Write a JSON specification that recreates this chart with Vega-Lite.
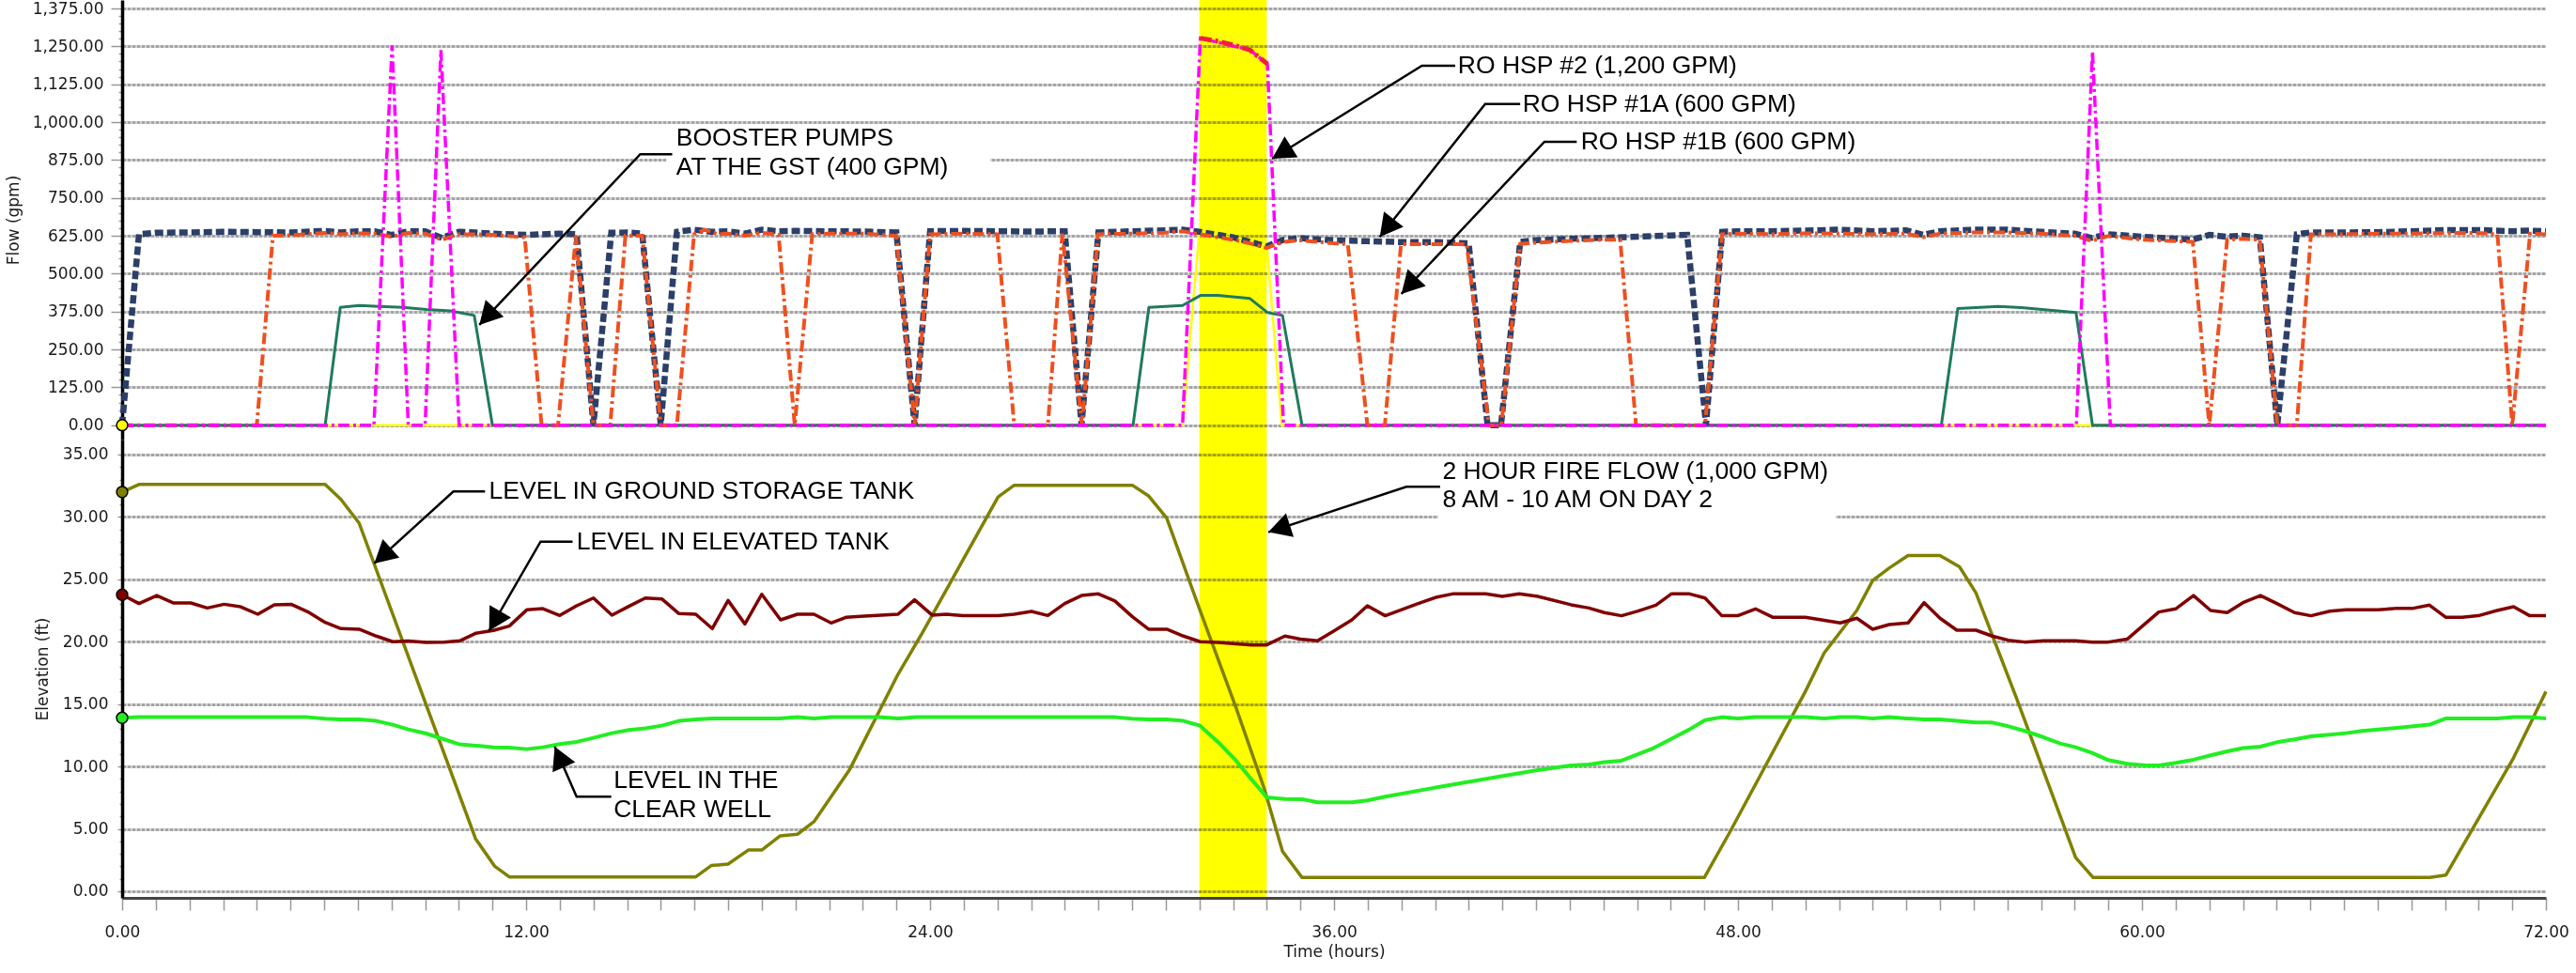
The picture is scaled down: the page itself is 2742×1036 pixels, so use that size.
{
"$schema": "https://vega.github.io/schema/vega-lite/v6.json",
"padding": {"left": 5, "top": 0, "right": 0, "bottom": 0},
"background": "white",
"config": {"view": {"stroke": null}, "axis": {"labelFont": "DejaVu Sans", "titleFont": "DejaVu Sans", "labelFontSize": 17, "titleFontSize": 17, "titleFontWeight": "normal", "labelColor": "#1a1a1a", "titleColor": "#1a1a1a"}},
"datasets": {
"band": [{"h": 32, "h2": 34}],
"a1": [{"h":0,"v":0},{"h":0.5,"v":630},{"h":1,"v":635},{"h":2,"v":636},{"h":3,"v":638},{"h":4,"v":637},{"h":5,"v":636},{"h":6,"v":641},{"h":6.5,"v":636},{"h":7,"v":640},{"h":7.5,"v":640},{"h":8,"v":628},{"h":8.5,"v":640},{"h":9,"v":640},{"h":9.5,"v":618},{"h":10,"v":638},{"h":10.5,"v":636},{"h":11,"v":632},{"h":12,"v":628},{"h":12.5,"v":630},{"h":13,"v":632},{"h":13.5,"v":630},{"h":14,"v":0},{"h":14.53,"v":635},{"h":15,"v":636},{"h":15.45,"v":632},{"h":16,"v":0},{"h":16.48,"v":638},{"h":17,"v":645},{"h":17.5,"v":638},{"h":18,"v":640},{"h":18.5,"v":632},{"h":19,"v":645},{"h":19.5,"v":640},{"h":20,"v":641},{"h":21,"v":640},{"h":22,"v":639},{"h":23,"v":636},{"h":23.54,"v":0},{"h":24,"v":640},{"h":25,"v":641},{"h":26,"v":640},{"h":27,"v":639},{"h":28,"v":640},{"h":28.5,"v":0},{"h":29,"v":636},{"h":30,"v":640},{"h":31,"v":643},{"h":31.5,"v":645},{"h":32,"v":638},{"h":33,"v":620},{"h":33.5,"v":605},{"h":34,"v":590},{"h":34.5,"v":612},{"h":35,"v":617},{"h":36,"v":610},{"h":37,"v":607},{"h":38,"v":604},{"h":39,"v":604},{"h":40,"v":600},{"h":40.56,"v":0},{"h":40.96,"v":0},{"h":41.53,"v":605},{"h":42,"v":610},{"h":43,"v":615},{"h":44,"v":618},{"h":45,"v":622},{"h":46,"v":626},{"h":46.49,"v":628},{"h":47.05,"v":0},{"h":47.53,"v":638},{"h":48,"v":640},{"h":49,"v":640},{"h":50,"v":642},{"h":51,"v":645},{"h":52,"v":640},{"h":53,"v":643},{"h":53.5,"v":628},{"h":54,"v":640},{"h":55,"v":645},{"h":56,"v":645},{"h":57,"v":638},{"h":58,"v":632},{"h":58.5,"v":618},{"h":59,"v":630},{"h":60,"v":622},{"h":61,"v":615},{"h":61.5,"v":612},{"h":62,"v":628},{"h":62.5,"v":622},{"h":63,"v":625},{"h":63.5,"v":620},{"h":64.02,"v":0},{"h":64.6,"v":630},{"h":65,"v":636},{"h":66,"v":636},{"h":67,"v":637},{"h":68,"v":640},{"h":69,"v":644},{"h":70,"v":644},{"h":71,"v":640},{"h":71.5,"v":642},{"h":72,"v":640}],
"b1": [{"h":0,"v":0},{"h":4,"v":0},{"h":4.48,"v":625},{"h":5,"v":627},{"h":6,"v":634},{"h":6.5,"v":630},{"h":7,"v":633},{"h":7.5,"v":632},{"h":8,"v":622},{"h":8.5,"v":634},{"h":9,"v":632},{"h":9.5,"v":612},{"h":10,"v":630},{"h":10.5,"v":630},{"h":11,"v":628},{"h":11.96,"v":620},{"h":12.46,"v":0},{"h":12.95,"v":0},{"h":13.48,"v":625},{"h":14,"v":0},{"h":14.5,"v":0},{"h":14.95,"v":625},{"h":15.45,"v":625},{"h":16,"v":0},{"h":16.48,"v":0},{"h":16.99,"v":630},{"h":17.3,"v":645},{"h":17.7,"v":630},{"h":18,"v":632},{"h":18.5,"v":625},{"h":19,"v":635},{"h":19.5,"v":628},{"h":19.98,"v":0},{"h":20.5,"v":630},{"h":21,"v":632},{"h":22,"v":632},{"h":23,"v":625},{"h":23.54,"v":0},{"h":24,"v":630},{"h":25,"v":632},{"h":26,"v":630},{"h":26.5,"v":0},{"h":27.5,"v":0},{"h":27.93,"v":632},{"h":28.51,"v":0},{"h":28.99,"v":630},{"h":30,"v":632},{"h":31,"v":635},{"h":31.5,"v":640},{"h":32,"v":630},{"h":33,"v":612},{"h":33.5,"v":600},{"h":34,"v":585},{"h":34.5,"v":605},{"h":35,"v":610},{"h":36,"v":600},{"h":36.41,"v":597},{"h":36.99,"v":0},{"h":37.51,"v":0},{"h":37.99,"v":597},{"h":39,"v":597},{"h":39.94,"v":597},{"h":40.6,"v":0},{"h":40.97,"v":0},{"h":41.53,"v":598},{"h":42,"v":602},{"h":43,"v":608},{"h":44,"v":612},{"h":44.5,"v":612},{"h":44.97,"v":0},{"h":47.02,"v":0},{"h":47.53,"v":630},{"h":48,"v":632},{"h":49,"v":630},{"h":50,"v":633},{"h":51,"v":632},{"h":52,"v":630},{"h":53,"v":632},{"h":53.5,"v":620},{"h":54,"v":632},{"h":55,"v":636},{"h":56,"v":636},{"h":57,"v":632},{"h":58,"v":625},{"h":58.5,"v":608},{"h":59,"v":624},{"h":60,"v":612},{"h":61,"v":607},{"h":61.51,"v":605},{"h":62,"v":0},{"h":62.53,"v":612},{"h":63,"v":615},{"h":63.5,"v":612},{"h":64.02,"v":0},{"h":64.6,"v":0},{"h":65.02,"v":630},{"h":66,"v":630},{"h":67,"v":632},{"h":68,"v":632},{"h":69,"v":634},{"h":70,"v":634},{"h":70.56,"v":630},{"h":71,"v":0},{"h":71.53,"v":632},{"h":72,"v":630}],
"p2": [{"h":0,"v":0},{"h":7.48,"v":0},{"h":8.02,"v":1253},{"h":8.5,"v":0},{"h":9,"v":0},{"h":9.47,"v":1238},{"h":10.01,"v":0},{"h":31.5,"v":0},{"h":32.03,"v":1277},{"h":33.5,"v":1238},{"h":34.02,"v":1192},{"h":34.5,"v":0},{"h":58.05,"v":0},{"h":58.53,"v":1233},{"h":59.06,"v":0},{"h":72,"v":0}],
"red": [{"h":32.03,"v":1277},{"h":32.5,"v":1268},{"h":33,"v":1255},{"h":33.5,"v":1238},{"h":34.02,"v":1192}],
"bp": [{"h":0,"v":0},{"h":6.03,"v":0},{"h":6.48,"v":389},{"h":7.05,"v":395},{"h":7.62,"v":392},{"h":8.33,"v":389},{"h":9.04,"v":382},{"h":9.75,"v":377},{"h":10.46,"v":362},{"h":11,"v":0},{"h":30.03,"v":0},{"h":30.5,"v":389},{"h":31.5,"v":395},{"h":32.03,"v":428},{"h":32.55,"v":428},{"h":33.5,"v":418},{"h":34.02,"v":372},{"h":34.47,"v":362},{"h":35.05,"v":0},{"h":54.04,"v":0},{"h":54.53,"v":385},{"h":55.73,"v":392},{"h":56.41,"v":388},{"h":58.04,"v":372},{"h":58.53,"v":0},{"h":72,"v":0}],
"yl": [{"h":0,"v":0},{"h":31.5,"v":0},{"h":32,"v":640},{"h":34,"v":595},{"h":34.45,"v":0},{"h":72,"v":0}],
"gst": [{"h":0,"v":32.0},{"h":0.5,"v":32.6},{"h":6.03,"v":32.6},{"h":6.5,"v":31.4},{"h":7.04,"v":29.5},{"h":10.5,"v":4.2},{"h":11.07,"v":2.0},{"h":11.5,"v":1.15},{"h":17.04,"v":1.15},{"h":17.5,"v":2.06},{"h":18.0,"v":2.18},{"h":18.6,"v":3.3},{"h":19.0,"v":3.3},{"h":19.55,"v":4.44},{"h":20.06,"v":4.57},{"h":20.55,"v":5.57},{"h":21.6,"v":9.7},{"h":23.05,"v":17.4},{"h":23.77,"v":20.7},{"h":26.02,"v":31.6},{"h":26.5,"v":32.54},{"h":30.01,"v":32.54},{"h":30.5,"v":31.66},{"h":31.03,"v":29.9},{"h":32.02,"v":22.5},{"h":33.09,"v":14.7},{"h":33.93,"v":8.2},{"h":34.47,"v":3.19},{"h":35.05,"v":1.1},{"h":47.0,"v":1.1},{"h":47.75,"v":4.7},{"h":50.0,"v":16.0},{"h":50.56,"v":19.1},{"h":51.53,"v":22.5},{"h":52.0,"v":24.9},{"h":52.49,"v":25.9},{"h":53.05,"v":26.9},{"h":54.0,"v":26.9},{"h":54.58,"v":26.0},{"h":55.07,"v":23.9},{"h":56.27,"v":15.5},{"h":58.03,"v":2.7},{"h":58.55,"v":1.1},{"h":68.55,"v":1.1},{"h":69.03,"v":1.3},{"h":71.04,"v":10.7},{"h":72.0,"v":16.0}],
"et": [{"h":0,"v":23.76},{"h":0.5,"v":23.06},{"h":1.03,"v":23.7},{"h":1.53,"v":23.1},{"h":2.04,"v":23.1},{"h":2.53,"v":22.7},{"h":3.03,"v":23.0},{"h":3.52,"v":22.8},{"h":4.03,"v":22.2},{"h":4.52,"v":22.96},{"h":5.02,"v":23.0},{"h":5.51,"v":22.4},{"h":6.03,"v":21.55},{"h":6.5,"v":21.05},{"h":7.04,"v":21.0},{"h":7.55,"v":20.45},{"h":8.04,"v":20.0},{"h":8.5,"v":20.05},{"h":9.03,"v":19.95},{"h":9.57,"v":19.97},{"h":10.03,"v":20.07},{"h":10.5,"v":20.67},{"h":11.03,"v":20.9},{"h":11.5,"v":21.25},{"h":12.02,"v":22.55},{"h":12.5,"v":22.65},{"h":13.0,"v":22.1},{"h":13.5,"v":22.88},{"h":14.0,"v":23.5},{"h":14.55,"v":22.13},{"h":15.05,"v":22.83},{"h":15.54,"v":23.5},{"h":16.03,"v":23.43},{"h":16.54,"v":22.25},{"h":17.04,"v":22.2},{"h":17.53,"v":21.05},{"h":18.0,"v":23.3},{"h":18.5,"v":21.42},{"h":19.0,"v":23.8},{"h":19.56,"v":21.75},{"h":20.06,"v":22.2},{"h":20.55,"v":22.2},{"h":21.06,"v":21.5},{"h":21.5,"v":21.95},{"h":22.05,"v":22.05},{"h":23.05,"v":22.2},{"h":23.54,"v":23.36},{"h":24.06,"v":22.13},{"h":24.49,"v":22.2},{"h":24.98,"v":22.08},{"h":26.02,"v":22.08},{"h":26.5,"v":22.2},{"h":27.01,"v":22.43},{"h":27.5,"v":22.1},{"h":28.0,"v":23.06},{"h":28.5,"v":23.7},{"h":29.0,"v":23.83},{"h":29.49,"v":23.26},{"h":30.01,"v":22.0},{"h":30.49,"v":21.0},{"h":31.03,"v":21.0},{"h":31.53,"v":20.45},{"h":32.02,"v":20.0},{"h":32.55,"v":19.95},{"h":33.55,"v":19.74},{"h":34.0,"v":19.74},{"h":34.54,"v":20.45},{"h":35.0,"v":20.2},{"h":35.51,"v":20.07},{"h":36.0,"v":20.87},{"h":36.53,"v":21.75},{"h":36.99,"v":22.88},{"h":37.52,"v":22.08},{"h":38.5,"v":23.06},{"h":39.06,"v":23.58},{"h":39.52,"v":23.83},{"h":40.5,"v":23.83},{"h":41.0,"v":23.63},{"h":41.5,"v":23.83},{"h":42.05,"v":23.63},{"h":43.04,"v":22.96},{"h":43.57,"v":22.7},{"h":44.03,"v":22.33},{"h":44.54,"v":22.08},{"h":45.03,"v":22.45},{"h":45.56,"v":22.93},{"h":46.02,"v":23.83},{"h":46.56,"v":23.83},{"h":47.02,"v":23.5},{"h":47.52,"v":22.08},{"h":47.99,"v":22.08},{"h":48.52,"v":22.63},{"h":49.04,"v":21.95},{"h":50.0,"v":21.95},{"h":51.04,"v":21.5},{"h":51.53,"v":21.88},{"h":52.0,"v":21.0},{"h":52.49,"v":21.37},{"h":53.05,"v":21.5},{"h":53.53,"v":23.13},{"h":54.0,"v":21.88},{"h":54.5,"v":20.92},{"h":55.07,"v":20.92},{"h":55.55,"v":20.45},{"h":56.03,"v":20.12},{"h":56.52,"v":19.97},{"h":57.08,"v":20.07},{"h":58.03,"v":20.07},{"h":58.52,"v":19.97},{"h":59.0,"v":19.97},{"h":59.56,"v":20.2},{"h":60.5,"v":22.38},{"h":61.0,"v":22.63},{"h":61.53,"v":23.7},{"h":62.04,"v":22.5},{"h":62.53,"v":22.33},{"h":63.0,"v":23.13},{"h":63.52,"v":23.7},{"h":64.05,"v":23.0},{"h":64.53,"v":22.33},{"h":65.02,"v":22.08},{"h":65.58,"v":22.45},{"h":66.06,"v":22.55},{"h":67.02,"v":22.55},{"h":67.58,"v":22.68},{"h":68.06,"v":22.68},{"h":68.54,"v":22.93},{"h":69.03,"v":21.95},{"h":69.51,"v":21.95},{"h":69.99,"v":22.08},{"h":70.55,"v":22.5},{"h":71.04,"v":22.8},{"h":71.52,"v":22.08},{"h":72.0,"v":22.08}],
"cw": [{"h":0,"v":13.9},{"h":0.5,"v":13.95},{"h":5.51,"v":13.95},{"h":6.03,"v":13.82},{"h":6.5,"v":13.77},{"h":7.04,"v":13.77},{"h":7.55,"v":13.65},{"h":8.04,"v":13.35},{"h":8.5,"v":12.97},{"h":9.03,"v":12.64},{"h":9.57,"v":12.17},{"h":10.03,"v":11.77},{"h":10.5,"v":11.67},{"h":11.03,"v":11.54},{"h":11.5,"v":11.52},{"h":12.02,"v":11.39},{"h":12.5,"v":11.54},{"h":13.0,"v":11.79},{"h":13.5,"v":11.97},{"h":14.0,"v":12.29},{"h":14.55,"v":12.67},{"h":15.05,"v":12.92},{"h":15.54,"v":13.05},{"h":16.03,"v":13.27},{"h":16.54,"v":13.65},{"h":17.04,"v":13.77},{"h":17.53,"v":13.85},{"h":19.53,"v":13.85},{"h":20.06,"v":13.95},{"h":20.55,"v":13.85},{"h":21.06,"v":13.95},{"h":22.5,"v":13.95},{"h":23.05,"v":13.85},{"h":23.6,"v":13.95},{"h":29.5,"v":13.95},{"h":30.0,"v":13.82},{"h":30.49,"v":13.77},{"h":31.03,"v":13.77},{"h":31.53,"v":13.65},{"h":32.02,"v":13.27},{"h":32.55,"v":11.97},{"h":33.09,"v":10.46},{"h":33.55,"v":8.96},{"h":34.0,"v":7.53},{"h":34.54,"v":7.4},{"h":35.05,"v":7.38},{"h":35.51,"v":7.13},{"h":36.53,"v":7.13},{"h":36.99,"v":7.28},{"h":37.52,"v":7.58},{"h":39.06,"v":8.33},{"h":41.05,"v":9.26},{"h":42.05,"v":9.71},{"h":43.04,"v":10.09},{"h":43.57,"v":10.16},{"h":44.03,"v":10.34},{"h":44.54,"v":10.46},{"h":45.49,"v":11.47},{"h":46.56,"v":12.97},{"h":47.02,"v":13.72},{"h":47.52,"v":13.95},{"h":48.0,"v":13.85},{"h":48.5,"v":13.95},{"h":50.0,"v":13.95},{"h":50.56,"v":13.85},{"h":51.04,"v":13.95},{"h":51.53,"v":13.95},{"h":52.0,"v":13.85},{"h":52.49,"v":13.95},{"h":53.0,"v":13.85},{"h":53.53,"v":13.77},{"h":54.0,"v":13.77},{"h":54.5,"v":13.65},{"h":55.07,"v":13.52},{"h":55.55,"v":13.52},{"h":56.03,"v":13.22},{"h":56.52,"v":12.85},{"h":57.08,"v":12.34},{"h":57.57,"v":11.84},{"h":58.03,"v":11.54},{"h":58.52,"v":11.09},{"h":59.0,"v":10.51},{"h":59.56,"v":10.21},{"h":60.12,"v":10.09},{"h":60.5,"v":10.09},{"h":61.0,"v":10.29},{"h":61.53,"v":10.54},{"h":62.04,"v":10.89},{"h":62.53,"v":11.21},{"h":63.0,"v":11.47},{"h":63.52,"v":11.59},{"h":64.05,"v":11.97},{"h":64.53,"v":12.17},{"h":65.02,"v":12.42},{"h":65.58,"v":12.54},{"h":66.06,"v":12.67},{"h":66.54,"v":12.85},{"h":67.02,"v":12.97},{"h":67.58,"v":13.1},{"h":68.06,"v":13.22},{"h":68.54,"v":13.35},{"h":69.03,"v":13.85},{"h":70.55,"v":13.85},{"h":71.04,"v":13.95},{"h":71.52,"v":13.95},{"h":72.0,"v":13.85}],
"tt": [{"h":16.46,"v":948,"t":"BOOSTER PUMPS"},{"h":16.46,"v":850,"t":"AT THE GST (400 GPM)"},{"h":39.68,"v":1185,"t":"RO HSP #2 (1,200 GPM)"},{"h":41.6,"v":1059,"t":"RO HSP #1A (600 GPM)"},{"h":43.33,"v":935,"t":"RO HSP #1B (600 GPM)"}],
"tl": [{"id":"bp","o":1,"h":16.34,"v":894},{"id":"bp","o":2,"h":15.39,"v":894},{"id":"bp","o":3,"h":10.61,"v":331},{"id":"p2","o":1,"h":39.6,"v":1186},{"id":"p2","o":2,"h":38.61,"v":1186},{"id":"p2","o":3,"h":34.16,"v":879},{"id":"a1","o":1,"h":41.53,"v":1060},{"id":"a1","o":2,"h":40.49,"v":1060},{"id":"a1","o":3,"h":37.36,"v":621},{"id":"b1","o":1,"h":43.21,"v":935},{"id":"b1","o":2,"h":42.25,"v":935},{"id":"b1","o":3,"h":38.0,"v":433}],
"ta": [{"h":10.61,"v":331,"dir":223},{"h":34.16,"v":879,"dir":238},{"h":37.36,"v":621,"dir":218},{"h":38.0,"v":433,"dir":223}],
"tb": [{"h":16.17,"h2":25.79,"v":830,"v2":985}],
"bt": [{"h":10.9,"v":32.04,"t":"LEVEL IN GROUND STORAGE TANK"},{"h":13.5,"v":28.02,"t":"LEVEL IN ELEVATED TANK"},{"h":14.6,"v":8.9,"t":"LEVEL IN THE"},{"h":14.6,"v":6.57,"t":"CLEAR WELL"},{"h":39.22,"v":33.67,"t":"2 HOUR FIRE FLOW (1,000 GPM)"},{"h":39.22,"v":31.41,"t":"8 AM - 10 AM ON DAY 2"}],
"bl": [{"id":"g","o":1,"h":10.78,"v":32.04},{"id":"g","o":2,"h":9.84,"v":32.04},{"id":"g","o":3,"h":7.49,"v":26.27},{"id":"e","o":1,"h":13.38,"v":28.02},{"id":"e","o":2,"h":12.43,"v":28.02},{"id":"e","o":3,"h":10.9,"v":20.87},{"id":"c","o":1,"h":14.53,"v":7.58},{"id":"c","o":2,"h":13.5,"v":7.58},{"id":"c","o":3,"h":12.85,"v":11.59},{"id":"f","o":1,"h":39.15,"v":32.42},{"id":"f","o":2,"h":38.15,"v":32.42},{"id":"f","o":3,"h":34.05,"v":28.78}],
"ba": [{"h":7.49,"v":26.27,"dir":228},{"h":10.9,"v":20.87,"dir":210},{"h":12.85,"v":11.59,"dir":336},{"h":34.05,"v":28.78,"dir":252}],
"bb": [{"h":14.53,"h2":19.89,"v":5.4,"v2":9.8},{"h":39.1,"h2":50.9,"v":29.8,"v2":34.7}]
},
"vconcat": [
{
"width": 2580, "height": 468,
"encoding": {"x": {"field": "h", "type": "quantitative", "scale": {"domain": [0, 72], "nice": false, "zero": false}, "axis": null}},
"layer": [
{"data": {"name": "band"}, "mark": {"type": "rect", "color": "#FFFF00", "blend": "multiply"}, "encoding": {"x2": {"field": "h2"}}},
{
"encoding": {"y": {"field": "v", "type": "quantitative", "scale": {"domain": [-47.4, 1402.9], "nice": false, "zero": false},
  "axis": {"title": "Flow (gpm)", "titlePadding": 11,
   "values": [0,25,50,75,100,125,150,175,200,225,250,275,300,325,350,375,400,425,450,475,500,525,550,575,600,625,650,675,700,725,750,775,800,825,850,875,900,925,950,975,1000,1025,1050,1075,1100,1125,1150,1175,1200,1225,1250,1275,1300,1325,1350,1375],
   "labelExpr": "datum.value % 125 === 0 ? format(datum.value, ',.2f') : ''", "labelOverlap": false, "labelPadding": 8,
   "tickSize": {"condition": {"test": "datum.value % 125 !== 0", "value": 4}, "value": 12},
   "tickColor": "#999999", "tickWidth": 1.5,
   "grid": true, "gridColor": "#a4a4a4", "gridWidth": 3, "gridDash": [4, 1],
   "gridOpacity": {"condition": {"test": "datum.value % 125 === 0", "value": 1}, "value": 0},
   "domainColor": "#000000", "domainWidth": 3.5}}},
"layer": [
{"data": {"name": "tb"}, "mark": {"type": "rect", "color": "#ffffff"}, "encoding": {"x2": {"field": "h2"}, "y2": {"field": "v2"}}},
{"data": {"name": "yl"}, "mark": {"type": "line", "color": "#FFFF00", "strokeWidth": 2.5}},
{"data": {"name": "bp"}, "mark": {"type": "line", "color": "#1F7A5C", "strokeWidth": 3, "strokeJoin": "round"}},
{"data": {"name": "a1"}, "mark": {"type": "line", "color": "#2B3F69", "strokeWidth": 6.5, "strokeDash": [9, 4]}},
{"data": {"name": "b1"}, "mark": {"type": "line", "color": "#EE5020", "strokeWidth": 4, "strokeDash": [12, 4, 3, 4]}},
{"data": {"name": "p2"}, "mark": {"type": "line", "color": "#FF00FF", "strokeWidth": 3.5, "strokeDash": [12, 4, 3, 4]}},
{"data": {"name": "red"}, "mark": {"type": "line", "color": "#F0203A", "strokeWidth": 5, "strokeDash": [12, 4, 3, 4]}},
{"data": {"name": "tl"}, "mark": {"type": "line", "color": "#000000", "strokeWidth": 2.5}, "encoding": {"detail": {"field": "id"}, "order": {"field": "o"}}},
{"data": {"name": "ta"}, "mark": {"type": "point", "shape": "M0,0L-1.1,2L1.1,2Z", "filled": true, "color": "#000000", "opacity": 1, "size": 576}, "encoding": {"angle": {"field": "dir", "type": "quantitative", "scale": null}}},
{"data": {"name": "tt"}, "mark": {"type": "text", "align": "left", "baseline": "middle", "font": "Liberation Sans", "fontSize": 26.5, "color": "#000000"}, "encoding": {"text": {"field": "t"}}},
{"data": {"name": "yl"}, "transform": [{"filter": "datum.h === 0"}], "mark": {"type": "point", "filled": true, "fill": "#FFFF00", "stroke": "#000000", "strokeWidth": 1.5, "opacity": 1, "size": 140}}
]
},
{"data": {"values": [{}]}, "mark": {"type": "rule", "color": "#000000", "strokeWidth": 1.5}, "encoding": {"x": {"datum": 72}}}
]
},
{
"width": 2580, "height": 488,
"encoding": {
 "x": {"field": "h", "type": "quantitative", "scale": {"domain": [0, 72], "nice": false, "zero": false},
  "axis": {"title": "Time (hours)", "titlePadding": 5,
   "values": [0,1,2,3,4,5,6,7,8,9,10,11,12,13,14,15,16,17,18,19,20,21,22,23,24,25,26,27,28,29,30,31,32,33,34,35,36,37,38,39,40,41,42,43,44,45,46,47,48,49,50,51,52,53,54,55,56,57,58,59,60,61,62,63,64,65,66,67,68,69,70,71,72],
   "labelExpr": "datum.value % 12 === 0 ? format(datum.value, '.2f') : ''", "labelOverlap": false, "labelFlush": false, "labelPadding": 15,
   "tickSize": 13, "tickColor": "#999999", "tickWidth": 1.5, "grid": false,
   "domainColor": "#444444", "domainWidth": 3}}},
"layer": [
{"data": {"name": "band"}, "mark": {"type": "rect", "color": "#FFFF00", "blend": "multiply"}, "encoding": {"x2": {"field": "h2"}}},
{
"encoding": {"y": {"field": "v", "type": "quantitative", "scale": {"domain": [-0.53, 36.2], "nice": false, "zero": false},
  "axis": {"title": "Elevation (ft)", "titlePadding": 12,
   "values": [0,1,2,3,4,5,6,7,8,9,10,11,12,13,14,15,16,17,18,19,20,21,22,23,24,25,26,27,28,29,30,31,32,33,34,35],
   "labelExpr": "datum.value % 5 === 0 ? format(datum.value, '.2f') : ''", "labelOverlap": false, "labelPadding": 10,
   "tickSize": {"condition": {"test": "datum.value % 5 !== 0", "value": 3}, "value": 5},
   "tickColor": "#999999", "tickWidth": 1.5,
   "grid": true, "gridColor": "#a4a4a4", "gridWidth": 3, "gridDash": [4, 1],
   "gridOpacity": {"condition": {"test": "datum.value % 5 === 0", "value": 1}, "value": 0},
   "domainColor": "#000000", "domainWidth": 3.5}}},
"layer": [
{"data": {"name": "bb"}, "mark": {"type": "rect", "color": "#ffffff"}, "encoding": {"x2": {"field": "h2"}, "y2": {"field": "v2"}}},
{"data": {"name": "gst"}, "mark": {"type": "line", "color": "#808000", "strokeWidth": 3.5, "strokeJoin": "round"}},
{"data": {"name": "et"}, "mark": {"type": "line", "color": "#800000", "strokeWidth": 3.5, "strokeJoin": "round"}},
{"data": {"name": "cw"}, "mark": {"type": "line", "color": "#22EE22", "strokeWidth": 4, "strokeJoin": "round"}},
{"data": {"name": "bl"}, "mark": {"type": "line", "color": "#000000", "strokeWidth": 2.5}, "encoding": {"detail": {"field": "id"}, "order": {"field": "o"}}},
{"data": {"name": "ba"}, "mark": {"type": "point", "shape": "M0,0L-1.1,2L1.1,2Z", "filled": true, "color": "#000000", "opacity": 1, "size": 576}, "encoding": {"angle": {"field": "dir", "type": "quantitative", "scale": null}}},
{"data": {"name": "bt"}, "mark": {"type": "text", "align": "left", "baseline": "middle", "font": "Liberation Sans", "fontSize": 26.5, "color": "#000000"}, "encoding": {"text": {"field": "t"}}},
{"data": {"name": "gst"}, "transform": [{"filter": "datum.h === 0"}], "mark": {"type": "point", "filled": true, "fill": "#808000", "stroke": "#000000", "strokeWidth": 1.5, "opacity": 1, "size": 140}},
{"data": {"name": "et"}, "transform": [{"filter": "datum.h === 0"}], "mark": {"type": "point", "filled": true, "fill": "#800000", "stroke": "#000000", "strokeWidth": 1.5, "opacity": 1, "size": 140}},
{"data": {"name": "cw"}, "transform": [{"filter": "datum.h === 0"}], "mark": {"type": "point", "filled": true, "fill": "#22EE22", "stroke": "#000000", "strokeWidth": 1.5, "opacity": 1, "size": 140}}
]
},
{"data": {"values": [{}]}, "mark": {"type": "rule", "color": "#000000", "strokeWidth": 1.5}, "encoding": {"x": {"datum": 72}}}
]
}
],
"spacing": 0
}
